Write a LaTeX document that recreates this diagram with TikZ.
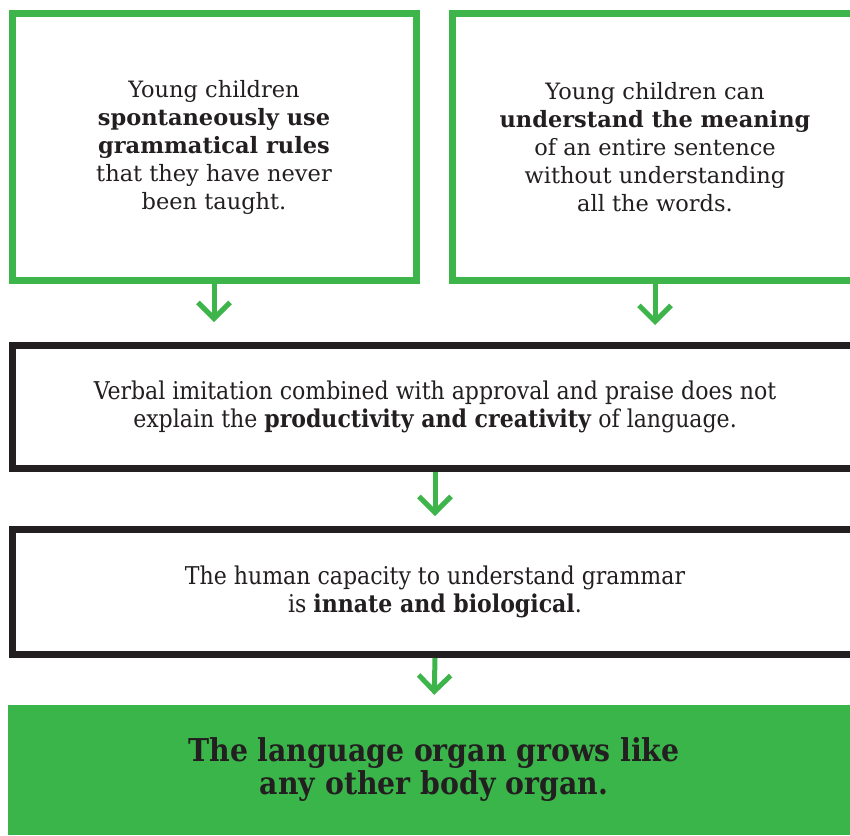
\documentclass[tikz,border=0pt]{standalone}
\usepackage{fontspec}
\setmainfont{DejaVu Serif}
\newfontfamily\condfont{DejaVu Serif Condensed}
\usetikzlibrary{arrows.meta}
\definecolor{gline}{HTML}{3DB54A}
\definecolor{gfill}{HTML}{3AB54A}
\definecolor{ink}{HTML}{231F20}
\begin{document}
\begin{tikzpicture}[x=1pt,y=-1pt,
  gbox/.style={draw=gline, line width=7pt, rectangle, align=center, text=ink,
    font=\fontsize{22.5}{28}\selectfont, minimum height=267pt},
  kbox/.style={draw=ink, line width=7pt, rectangle, align=center, text=ink,
    font=\condfont\fontsize{24.5}{27.5}\selectfont, minimum width=846pt},
  fbox/.style={fill=gfill, rectangle, align=center, text=ink,
    font=\condfont\bfseries\fontsize{31.5}{33}\selectfont, minimum width=852pt, minimum height=130pt},
  garrow/.style={draw=gline, line width=5pt,
    -{Straight Barb[length=16pt,width=32pt,line width=5pt]}}
]
\useasboundingbox (0,0) rectangle (850,835);
\fill[white] (0,0) rectangle (850,835);

\node[gbox, minimum width=404pt] (box1) at (214,147)
  {Young children\\ \textbf{spontaneously use}\\ \textbf{grammatical rules}\\ that they have never\\ been taught.};
\node[gbox, minimum width=406pt] (box2) at (655,147)
  {Young children can\\ \textbf{understand the meaning}\\ of an entire sentence\\ without understanding\\ all the words.};

\node[kbox, minimum height=123pt] (mid1) at (435,407)
  {Verbal imitation combined with approval and praise does not\\ explain the \textbf{productivity and creativity} of language.};
\node[kbox, minimum height=125pt] (mid2) at (435,592)
  {The human capacity to understand grammar\\ is \textbf{innate and biological}.};

\node[fbox] (final) at (434,770)
  {The language organ grows like\\ any other body organ.};

\draw[garrow, shorten >=20pt] (box1.south) -- (box1.south |- mid1.north);
\draw[garrow, shorten >=17pt] (box2.south) -- (box2.south |- mid1.north);
\draw[garrow, shorten >=10pt] (mid1.south) -- (mid2.north);
\draw[garrow, shorten >=10pt] (mid2.south) -- (final.north);
\end{tikzpicture}
\end{document}
